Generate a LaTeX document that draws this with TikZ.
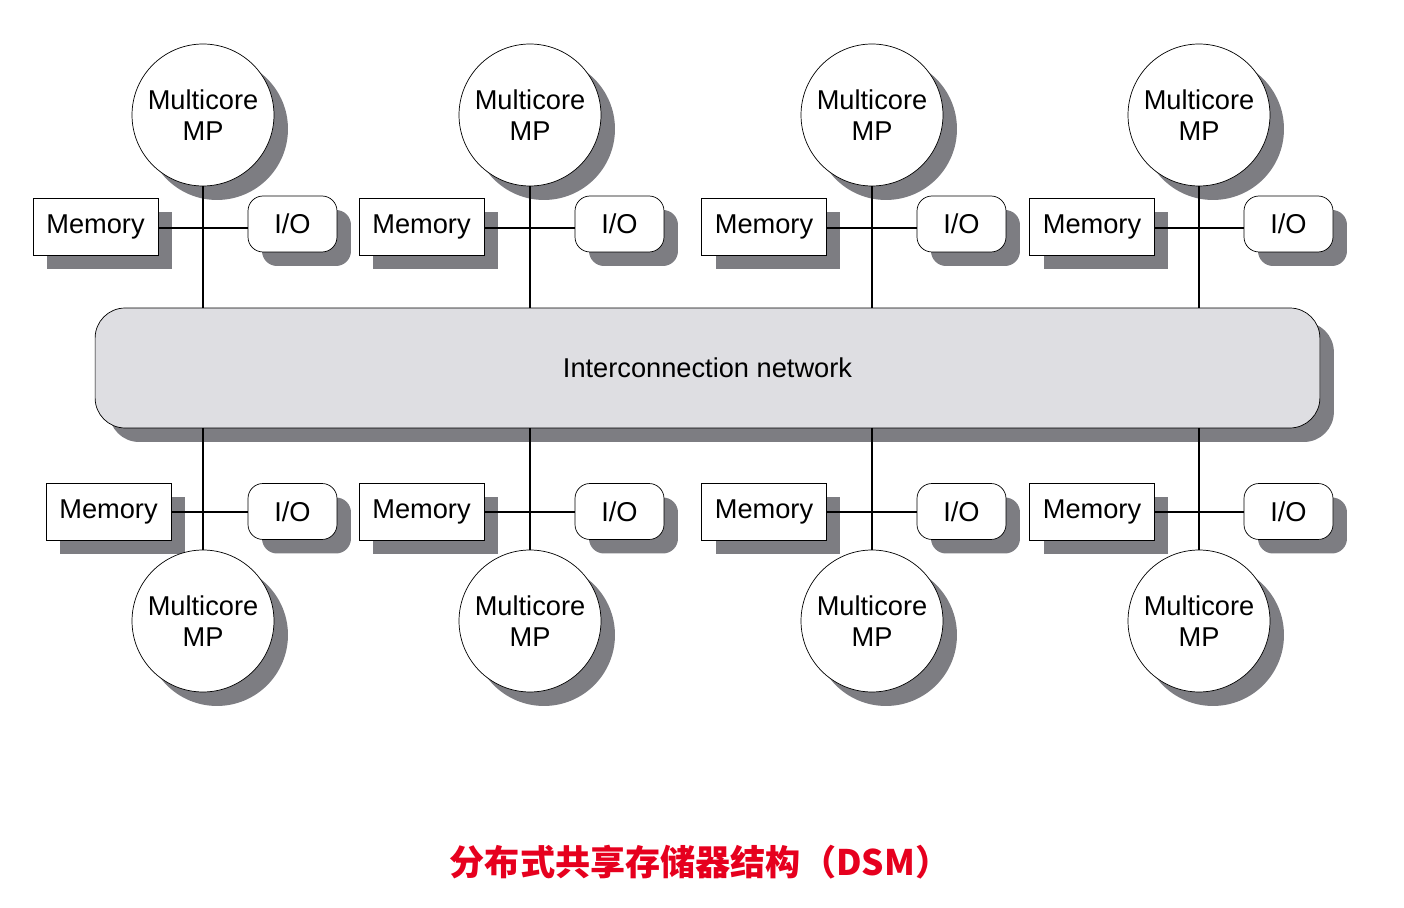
\documentclass[tikz,border=0pt]{standalone}
\usepackage{fontspec}
\setmainfont{Liberation Sans}
\newfontfamily\cjk{Noto Sans CJK SC}
\usetikzlibrary{shadows}
\definecolor{shd}{RGB}{125,125,130}
\definecolor{net}{RGB}{222,222,226}
\definecolor{cap}{RGB}{230,0,30}
\begin{document}
\begin{tikzpicture}[x=0.02cm,y=-0.02cm,
  sh/.style={drop shadow={shadow xshift=0.28cm,shadow yshift=-0.28cm,fill=shd,opacity=1}},
  mp/.style={circle,draw,fill=white,minimum size=2.84cm,inner sep=0pt,align=center,sh,font=\fontsize{15.5}{18}\selectfont},
  mem/.style={rectangle,draw,fill=white,minimum width=2.5cm,minimum height=1.14cm,inner sep=0pt,sh,font=\fontsize{15.5}{18}\selectfont},
  io/.style={rectangle,rounded corners=0.3cm,draw,fill=white,minimum width=1.78cm,minimum height=1.12cm,inner sep=0pt,sh,font=\fontsize{15.5}{18}\selectfont},
  ln/.style={draw,line width=0.6pt}]
\useasboundingbox (0,0) rectangle (1404,908);
% network
\node[rectangle,rounded corners=0.6cm,draw,fill=net,minimum width=24.5cm,minimum height=2.4cm,sh,font=\fontsize{15.5}{18}\selectfont] (net) at (707.5,368) {Interconnection network};
\foreach \i/\cx/\mx/\bmx/\ix in {1/203/95.5/108.5/292.5, 2/530/421.5/421.5/619.5, 3/872/764/764/961.5, 4/1199/1092/1092/1288.5}{
  \coordinate (tj\i) at (\cx,228);
  \coordinate (bj\i) at (\cx,512);
  \coordinate (tn\i) at (\cx,308);
  \coordinate (bn\i) at (\cx,428);
  \node[mem] (tm\i) at (\mx,226.5) {Memory};
  \node[io] (ti\i) at (\ix,224) {I/O};
  \node[mem] (bm\i) at (\bmx,511.5) {Memory};
  \node[io] (bi\i) at (\ix,511.5) {I/O};
  \draw[ln] (tm\i.east |- tj\i) -- (ti\i.west |- tj\i);
  \draw[ln] (bm\i.east |- bj\i) -- (bi\i.west |- bj\i);
  \node[mp] (tc\i) at (\cx,115) {Multicore\\MP};
  \node[mp] (bc\i) at (\cx,621) {Multicore\\MP};
  \draw[ln] (tc\i.south) -- (tn\i);
  \draw[ln] (bn\i) -- (bc\i.north);
}
\node[font=\cjk\bfseries\fontsize{20}{24}\selectfont,text=cap] (cap) at (700,862) {分布式共享存储器结构（DSM）};
\end{tikzpicture}
\end{document}
